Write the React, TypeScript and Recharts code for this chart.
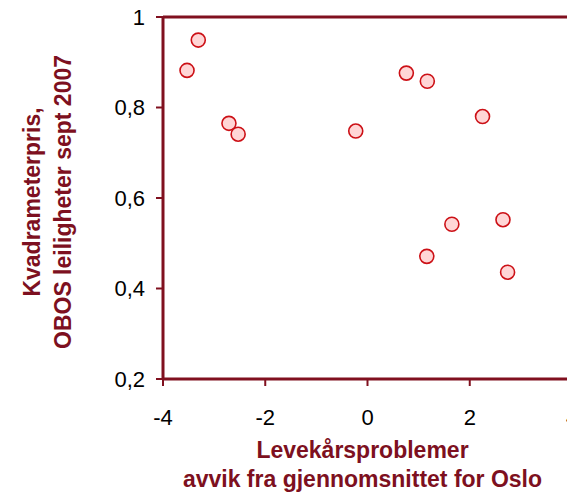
import React from "react";
import {
	ReferenceLine,
	Scatter,
	ScatterChart,
	XAxis,
	YAxis,
} from "recharts";

// Levekårsproblemer (avvik) vs kvadrameterpris, OBOS sept 2007
const levekar = [-3.31, -3.53, -2.71, -2.53, -0.23, 0.76, 1.17, 2.25, 1.65, 2.65, 1.16, 2.74];
const kvmPris = [0.949, 0.882, 0.765, 0.741, 0.748, 0.876, 0.858, 0.78, 0.542, 0.552, 0.471, 0.436];

const xTicks = [-4, -2, 0, 2, 4];
const yTicks = [0.2, 0.4, 0.6, 0.8, 1];

const xTitle = ["Levekårsproblemer", "avvik fra gjennomsnittet for Oslo"];
const yTitle = ["Kvadrameterpris,", "OBOS leiligheter sept 2007"];

const punkter = levekar.map((x, i) => ({ x, y: kvmPris[i] }));

const AXIS = "#80101f";
const TITLE = "#7d1020";
const FONT = '"Liberation Sans", Arial, sans-serif';

const tickStyle = { fill: "#000", fontSize: 22, fontFamily: FONT };

const komma = (v: number) => String(v).replace(".", ",");

function Punkt(props: any) {
	const { cx, cy } = props;
	if (cx == null || cy == null) return null;
	return <circle cx={cx} cy={cy} r={7} fill="#ffd6d6" stroke="#cc1016" strokeWidth={1.6} />;
}

// two-line axis titles, Excel style
function XTittel(props: any) {
	const vb = props.viewBox || {};
	const cx = vb.x + vb.width / 2 - 5;
	return (
		<text textAnchor="middle" fill={TITLE} fontFamily={FONT} fontSize={23} fontWeight="bold">
			<tspan x={cx} y={458}>{xTitle[0]}</tspan>
			<tspan x={cx} y={487}>{xTitle[1]}</tspan>
		</text>
	);
}

function YTittel() {
	const cy = 202;
	return (
		<text
			textAnchor="middle"
			fill={TITLE}
			fontFamily={FONT}
			fontSize={23}
			fontWeight="bold"
			transform={`translate(0 ${cy}) rotate(-90)`}
		>
			<tspan x={0} y={40}>{yTitle[0]}</tspan>
			<tspan x={0} y={71}>{yTitle[1]}</tspan>
		</text>
	);
}

export default function App() {
	return (
		<div
			style={{
				position: "absolute",
				left: 0,
				top: 0,
				width: 567,
				height: 493,
				overflow: "hidden",
				background: "#fff",
			}}
		>
			<ScatterChart width={600} height={493} margin={{ top: 17, right: 28, bottom: 0, left: 0 }}>
				<XAxis
					type="number"
					dataKey="x"
					domain={[-4, 4]}
					ticks={xTicks}
					tick={tickStyle}
					tickSize={7}
					tickMargin={23}
					height={114}
					axisLine={{ stroke: AXIS, strokeWidth: 3 }}
					tickLine={{ stroke: AXIS, strokeWidth: 2 }}
					label={<XTittel />}
				/>
				<YAxis
					type="number"
					dataKey="y"
					domain={[0.2, 1]}
					ticks={yTicks}
					tickFormatter={komma}
					tick={tickStyle}
					tickSize={7}
					tickMargin={11}
					width={163}
					axisLine={{ stroke: AXIS, strokeWidth: 3 }}
					tickLine={{ stroke: AXIS, strokeWidth: 2 }}
					label={<YTittel />}
				/>
				<ReferenceLine y={1} stroke={AXIS} strokeWidth={3} />
				<ReferenceLine x={4} stroke={AXIS} strokeWidth={3} />
				<Scatter data={punkter} shape={<Punkt />} isAnimationActive={false} />
			</ScatterChart>
		</div>
	);
}
